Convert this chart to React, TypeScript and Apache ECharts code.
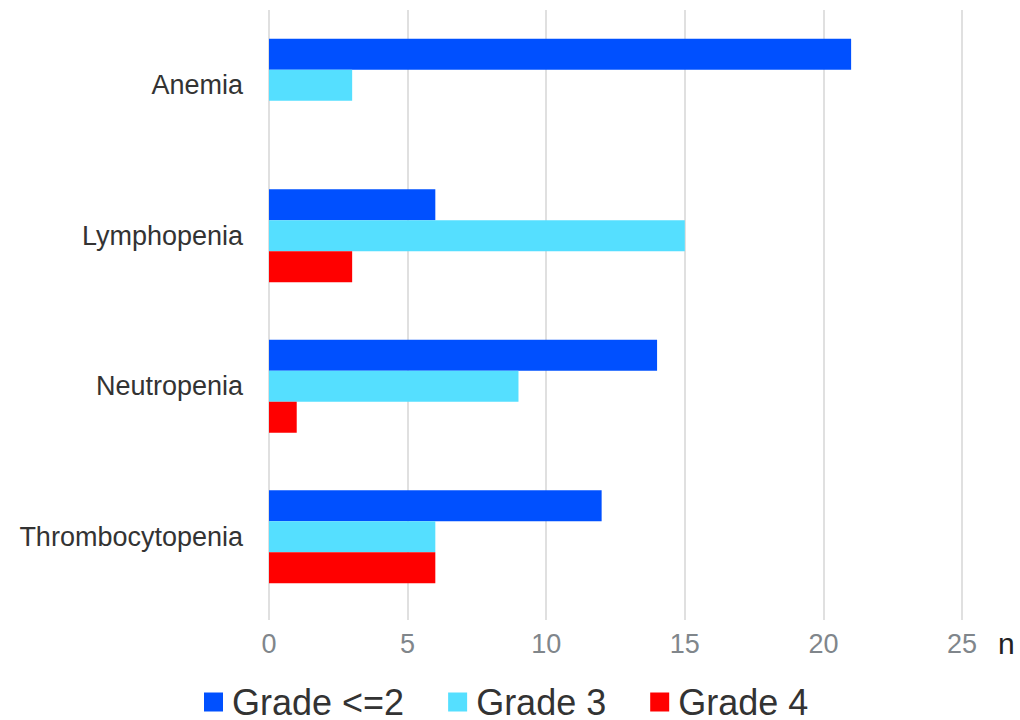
import React, { useEffect, useRef } from "react";
import * as echarts from "echarts";

const categories = ["Anemia", "Lymphopenia", "Neutropenia", "Thrombocytopenia"];
const grade2 = [21, 6, 14, 12];
const grade3 = [3, 15, 9, 6];
const grade4 = [0, 3, 1, 6];
const seriesNames = ["Grade <=2", "Grade 3", "Grade 4"];
const colors = ["#0050FF", "#55DFFF", "#FF0000"];
const xTicks = { min: 0, max: 25, interval: 5 };

export default function App() {
  const ref = useRef<HTMLDivElement>(null);
  useEffect(() => {
    document.body.style.margin = "0";
    const chart = echarts.init(ref.current!, null, { renderer: "svg" });
    const data = [grade2, grade3, grade4];
    chart.setOption({
      animation: false,
      grid: { left: 269, right: 58, top: 10, bottom: 108, containLabel: false },
      legend: {
        left: 204,
        top: 684,
        padding: 0,
        itemWidth: 19,
        itemHeight: 19,
        itemGap: 44,
        icon: "rect",
        data: seriesNames,
        textStyle: {
          fontFamily: "Liberation Sans",
          fontSize: 36,
          lineHeight: 28,
          color: "#333333",
          padding: [0, 0, 0, 4],
        },
      },
      xAxis: {
        type: "value",
        min: xTicks.min,
        max: xTicks.max,
        interval: xTicks.interval,
        name: "n",
        nameLocation: "end",
        nameGap: 36,
        nameTextStyle: {
          fontFamily: "Liberation Sans",
          fontSize: 30,
          lineHeight: 30,
          color: "#222222",
          verticalAlign: "top",
          padding: [16, 0, 0, 0],
        },
        axisLine: { show: false },
        axisTick: { show: true, length: 8, lineStyle: { color: "#e0e0e0", width: 2 } },
        axisLabel: {
          fontFamily: "Liberation Sans",
          fontSize: 27,
          color: "#80868b",
          margin: 18,
        },
        splitLine: { show: true, lineStyle: { color: "#e0e0e0", width: 2 } },
      },
      yAxis: {
        type: "category",
        data: categories,
        inverse: true,
        axisLine: { show: false },
        axisTick: { show: false },
        axisLabel: {
          fontFamily: "Liberation Sans",
          fontSize: 27,
          color: "#333333",
          margin: 26,
        },
      },
      series: seriesNames.map((name, i) => ({
        name,
        type: "bar",
        data: data[i],
        barWidth: 31,
        barGap: "0%",
        itemStyle: { color: colors[i] },
      })),
    });
    return () => chart.dispose();
  }, []);
  return <div ref={ref} style={{ width: 1020, height: 720 }} />;
}
